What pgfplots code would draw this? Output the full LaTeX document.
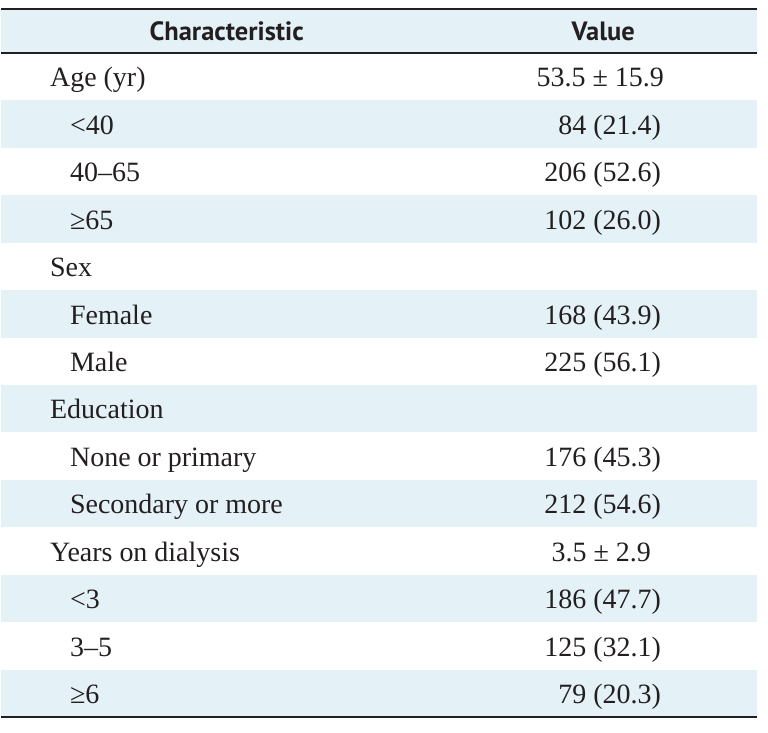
\documentclass[border=0pt]{standalone}
\usepackage{fontspec}
\setmainfont{Liberation Serif}
\newfontfamily\hdr{PT Sans}
\usepackage{pgfplots}
\pgfplotsset{compat=1.18}
\usepackage{pgfplotstable}
\definecolor{shade}{RGB}{228,242,247}
\definecolor{ink}{RGB}{35,31,32}

% left-column labels: x = left edge, y = baseline (pixels from top)
\pgfplotstableread[col sep=comma,row sep=\\]{
x,y,label\\
49,87.0,Age (yr)\\
69,134.5,<40\\
69,182.0,40–65\\
69,229.5,≥65\\
49,277.0,Sex\\
69,324.5,Female\\
69,372.0,Male\\
49,419.5,Education\\
69,467.0,None or primary\\
69,514.5,Secondary or more\\
49,562.0,Years on dialysis\\
69,609.5,<3\\
69,657.0,3–5\\
69,704.5,≥6\\
}\labels

% counts, right aligned
\pgfplotstableread[col sep=comma,row sep=\\]{
x,y,label\\
661,134.5,84 (21.4)\\
661,182.0,206 (52.6)\\
661,229.5,102 (26.0)\\
661,324.5,168 (43.9)\\
661,372.0,225 (56.1)\\
661,467.0,176 (45.3)\\
661,514.5,212 (54.6)\\
661,609.5,186 (47.7)\\
661,657.0,125 (32.1)\\
661,704.5,79 (20.3)\\
}\counts

% mean +- SD, centred
\pgfplotstableread[col sep=comma,row sep=\\]{
x,y,label\\
600,87.0,53.5 ± 15.9\\
601,562.0,3.5 ± 2.9\\
}\means

% header
\pgfplotstableread[col sep=comma,row sep=\\]{
x,y,label\\
226,40.5,Characteristic\\
603,40.5,Value\\
}\header

\begin{document}
\begin{tikzpicture}
\begin{axis}[
  width=768pt, height=733pt, scale only axis,
  xmin=0, xmax=768, ymin=0, ymax=733, y dir=reverse,
  hide axis, clip=false,
]
\addplot[draw=none, fill=white] coordinates {(0,0)(768,0)(768,733)(0,733)} -- cycle;
% shaded bands
\addplot[draw=none, fill=shade] coordinates {(0,9)(757,9)(757,53)(0,53)} -- cycle;
\addplot[draw=none, fill=shade] coordinates {(0,100.5)(757,100.5)(757,148)(0,148)} -- cycle;
\addplot[draw=none, fill=shade] coordinates {(0,195.5)(757,195.5)(757,243)(0,243)} -- cycle;
\addplot[draw=none, fill=shade] coordinates {(0,290.5)(757,290.5)(757,338)(0,338)} -- cycle;
\addplot[draw=none, fill=shade] coordinates {(0,385.5)(757,385.5)(757,433)(0,433)} -- cycle;
\addplot[draw=none, fill=shade] coordinates {(0,480.5)(757,480.5)(757,528)(0,528)} -- cycle;
\addplot[draw=none, fill=shade] coordinates {(0,575.5)(757,575.5)(757,623)(0,623)} -- cycle;
\addplot[draw=none, fill=shade] coordinates {(0,670.5)(757,670.5)(757,718)(0,718)} -- cycle;
% rules
\addplot[ink, line width=2pt] coordinates {(0,9)(757,9)};
\addplot[ink, line width=1.5pt] coordinates {(0,53)(757,53)};
\addplot[ink, line width=2pt] coordinates {(0,718)(757,718)};
% texts
\addplot[draw=none, nodes near coords, point meta=explicit symbolic,
  nodes near coords align={anchor=base west},
  every node near coord/.append style={inner sep=0pt, text=ink, font=\fontsize{28}{32}\selectfont}]
  table[x=x, y=y, meta=label] {\labels};
\addplot[draw=none, nodes near coords, point meta=explicit symbolic,
  nodes near coords align={anchor=base east},
  every node near coord/.append style={inner sep=0pt, text=ink, font=\fontsize{28}{32}\selectfont}]
  table[x=x, y=y, meta=label] {\counts};
\addplot[draw=none, nodes near coords, point meta=explicit symbolic,
  nodes near coords align={anchor=base},
  every node near coord/.append style={inner sep=0pt, text=ink, font=\fontsize{28}{32}\selectfont}]
  table[x=x, y=y, meta=label] {\means};
\addplot[draw=none, nodes near coords, point meta=explicit symbolic,
  nodes near coords align={anchor=base},
  every node near coord/.append style={inner sep=0pt, text=ink, font=\hdr\bfseries\fontsize{26.5}{30}\selectfont}]
  table[x=x, y=y, meta=label] {\header};
\end{axis}
\end{tikzpicture}
\end{document}
